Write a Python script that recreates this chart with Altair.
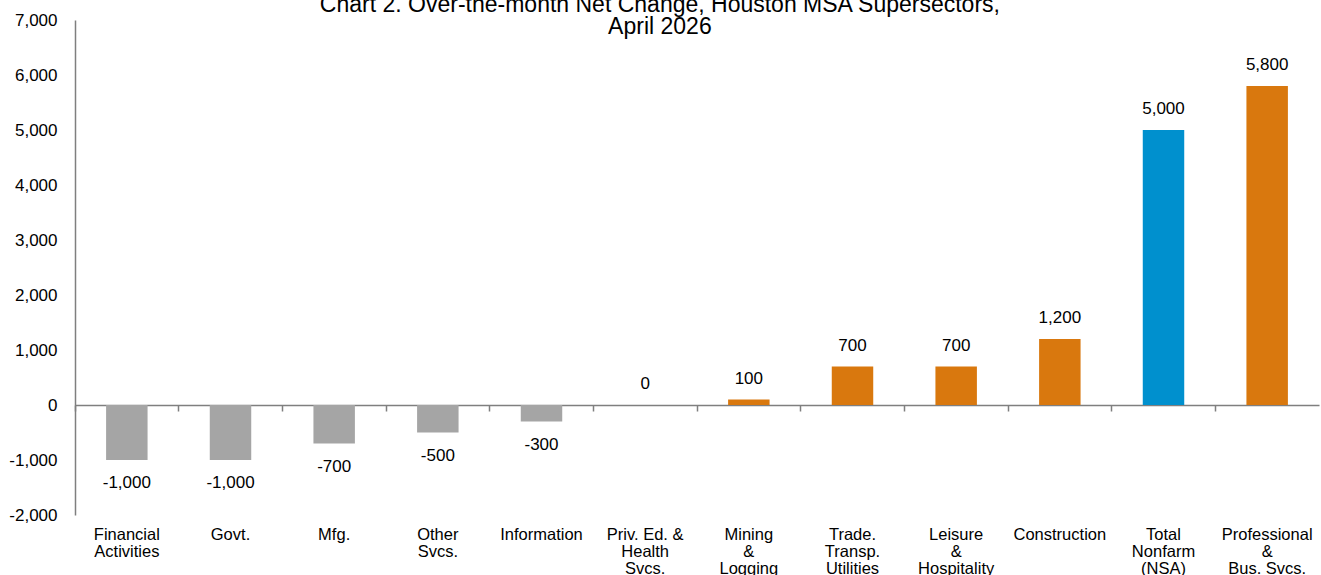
import altair as alt
import pandas as pd

categories = [
    "Financial|Activities", "Govt.", "Mfg.", "Other|Svcs.", "Information",
    "Priv. Ed. &|Health|Svcs.", "Mining|&|Logging", "Trade.|Transp.|Utilities",
    "Leisure|&|Hospitality", "Construction", "Total|Nonfarm|(NSA)",
    "Professional|&|Bus. Svcs.",
]
values = [-1000, -1000, -700, -500, -300, 0, 100, 700, 700, 1200, 5000, 5800]
groups = ["neg", "neg", "neg", "neg", "neg", "pos", "pos", "pos", "pos", "pos", "total", "pos"]

df = pd.DataFrame({"cat": categories, "value": values, "group": groups})

FONT = "Liberation Sans"
AXIS_GRAY = "#7f7f7f"

x_enc = alt.X(
    "cat:N", sort=categories, title=None,
    scale=alt.Scale(paddingInner=0, paddingOuter=0),
    axis=alt.Axis(
        orient="bottom", offset=-110, bandPosition=0, tickSize=6,
        tickColor=AXIS_GRAY, domainColor=AXIS_GRAY, domainWidth=1.5, tickWidth=1.5,
        labelAngle=0, labelPadding=115, labelFontSize=16.5, labelFont=FONT,
        labelColor="#000000", labelLineHeight=17, labelBaseline="top",
        labelExpr="split(datum.value, '|')", grid=False,
    ),
)
y_enc = alt.Y(
    "value:Q", title=None,
    scale=alt.Scale(domain=[-2000, 7000], nice=False),
    axis=alt.Axis(
        values=list(range(-2000, 7001, 1000)), ticks=False, grid=False,
        domainColor=AXIS_GRAY, domainWidth=1.5, labelPadding=18,
        labelFontSize=17, labelFont=FONT, labelColor="#000000",
        labelExpr="replace(format(datum.value, ','), '\u2212', '-')",
    ),
)

color_enc = alt.Color(
    "group:N", legend=None,
    scale=alt.Scale(domain=["neg", "pos", "total"], range=["#A5A5A5", "#D9780E", "#0090CE"]),
)

base = alt.Chart(df).transform_calculate(
    label="replace(format(datum.value, ','), '\u2212', '-')"
)

bars = base.mark_bar(width={"band": 0.4}).encode(x=x_enc, y=y_enc, color=color_enc)

text_pos = base.transform_filter("datum.value >= 0").mark_text(
    baseline="middle", dy=-21, fontSize=17, font=FONT, color="#000000"
).encode(x=alt.X("cat:N", sort=categories), y="value:Q", text="label:N")

text_neg = base.transform_filter("datum.value < 0").mark_text(
    baseline="middle", dy=23, fontSize=17, font=FONT, color="#000000"
).encode(x=alt.X("cat:N", sort=categories), y="value:Q", text="label:N")

chart = alt.layer(bars, text_pos, text_neg).properties(
    width=1244, height=495,
    title=alt.TitleParams(
        text=["Chart 2. Over-the-month Net Change, Houston MSA Supersectors,", "April 2026"],
        fontSize=23, font=FONT, fontWeight="normal", color="#000000",
        lineHeight=22, anchor="middle", frame="bounds", offset=-28, dx=-4,
    ),
    autosize=alt.AutoSizeParams(type="none"),
    padding={"left": 75, "top": 20, "right": 2, "bottom": 60},
).configure_view(stroke=None)

chart.save("out.html", embed_options={"renderer": "svg", "actions": False})
